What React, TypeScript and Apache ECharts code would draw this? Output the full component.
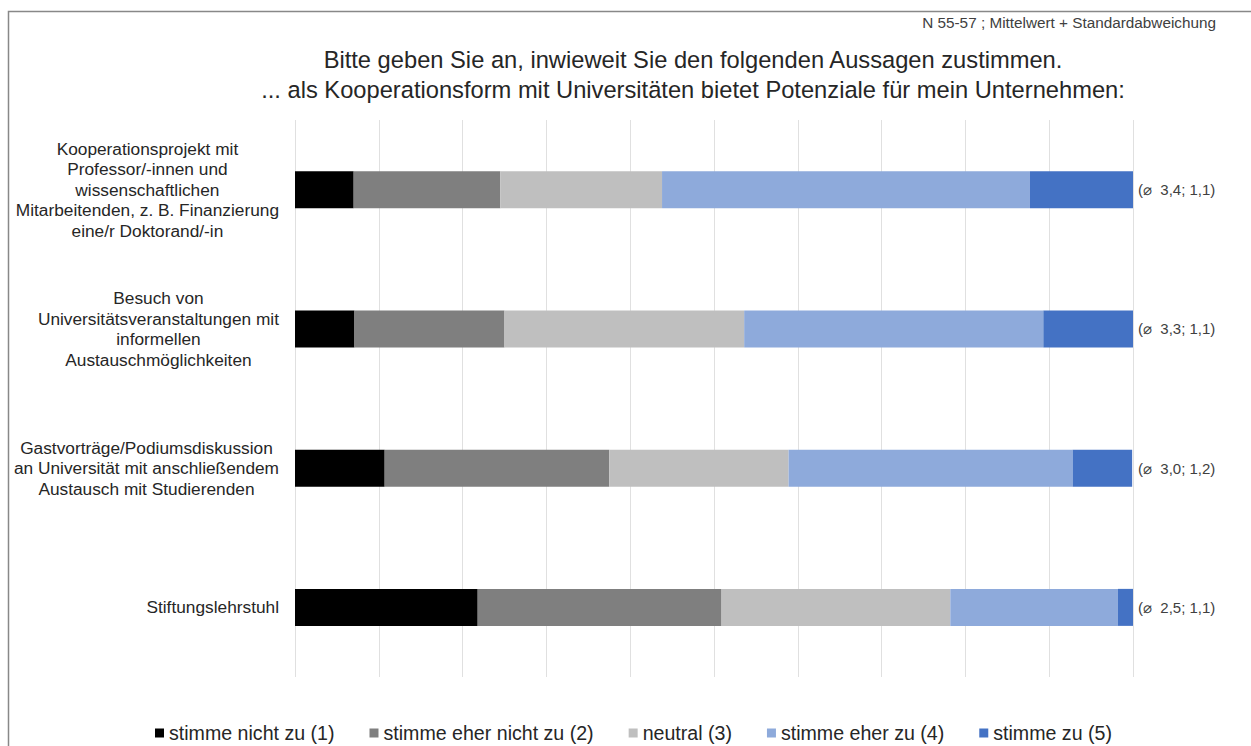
import React, { useEffect, useRef } from "react";
import * as echarts from "echarts";

const categories = [
  "Kooperationsprojekt mit\nProfessor/-innen und\nwissenschaftlichen\nMitarbeitenden, z. B. Finanzierung\neine/r Doktorand/-in",
  "Besuch von\nUniversitätsveranstaltungen mit\ninformellen\nAustauschmöglichkeiten",
  "Gastvorträge/Podiumsdiskussion\nan Universität mit anschließendem\nAustausch mit Studierenden",
  "Stiftungslehrstuhl",
];

const seriesNames = [
  "stimme nicht zu (1)",
  "stimme eher nicht zu (2)",
  "neutral (3)",
  "stimme eher zu (4)",
  "stimme zu (5)",
];

// Share of answers in percent per statement (rows follow categories)
const stimmeNichtZu = [7.0, 7.1, 10.7, 21.8];
const stimmeEherNichtZu = [17.5, 17.9, 26.8, 29.1];
const neutral = [19.3, 28.6, 21.4, 27.3];
const stimmeEherZu = [43.9, 35.7, 33.9, 20.0];
const stimmeZu = [12.3, 10.7, 7.1, 1.8];

const means = ["3,4", "3,3", "3,0", "2,5"];
const stdDevs = ["1,1", "1,1", "1,2", "1,1"];

const colors = ["#000000", "#7f7f7f", "#bfbfbf", "#8eaadb", "#4472c4"];

const titleLines = [
  "Bitte geben Sie an, inwieweit Sie den folgenden Aussagen zustimmen.",
  "... als Kooperationsform mit Universitäten bietet Potenziale für mein Unternehmen:",
];
const note = "N 55-57 ; Mittelwert + Standardabweichung";

const FONT = "'Liberation Sans', Arial, Helvetica, sans-serif";

export default function App() {
  const ref = useRef<HTMLDivElement>(null);

  useEffect(() => {
    if (!ref.current) return;
    const chart = echarts.init(ref.current, undefined, { renderer: "svg" });
    const values = [stimmeNichtZu, stimmeEherNichtZu, neutral, stimmeEherZu, stimmeZu];
    const statLabels = means.map((m, i) => `(⌀  ${m}; ${stdDevs[i]})`);

    chart.setOption({
      animation: false,
      backgroundColor: "#ffffff",
      textStyle: { fontFamily: FONT },
      title: {
        text: titleLines.join("\n"),
        left: 688,
        top: 40,
        textAlign: "center",
        textStyle: {
          fontFamily: FONT,
          fontSize: 23.7,
          fontWeight: "normal",
          color: "#262626",
          lineHeight: 30,
        },
      },
      graphic: [
        {
          type: "rect",
          shape: { x: 8.5, y: 11.5, width: 1300, height: 800 },
          style: { fill: "none", stroke: "#888888", lineWidth: 1.5 },
          silent: true,
        },
        {
          type: "text",
          x: 1216,
          y: 22,
          style: {
            text: note,
            font: `15.3px ${FONT}`,
            fill: "#404040",
            textAlign: "right",
            textVerticalAlign: "middle",
          },
        },
      ],
      legend: {
        data: seriesNames,
        left: 150,
        top: 718,
        itemWidth: 9,
        itemHeight: 9,
        itemGap: 35,
        icon: "rect",
        textStyle: { fontFamily: FONT, fontSize: 19.6, color: "#262626" },
      },
      grid: { left: 295, right: 118, top: 120, bottom: 69 },
      xAxis: {
        type: "value",
        min: 0,
        max: 100,
        interval: 10,
        axisLabel: { show: false },
        axisLine: { show: false },
        axisTick: { show: false },
        splitLine: { lineStyle: { color: "#e0e0e0", width: 1 } },
      },
      yAxis: [
        {
          type: "category",
          data: categories,
          inverse: true,
          axisLine: { show: false },
          axisTick: { show: false },
          axisLabel: {
            margin: 16,
            align: "right",
            formatter: (v: string) =>
              v
                .split("\n")
                .map((l) => `{c|${l}}`)
                .join("\n"),
            rich: {
              c: {
                align: "center",
                fontFamily: FONT,
                fontSize: 17.3,
                lineHeight: 20.5,
                color: "#262626",
              },
            },
          },
        },
        {
          type: "category",
          data: statLabels,
          inverse: true,
          position: "right",
          axisLine: { show: false },
          axisTick: { show: false },
          axisLabel: {
            margin: 5,
            fontFamily: FONT,
            fontSize: 15,
            color: "#404040",
          },
        },
      ],
      series: seriesNames.map((name, i) => ({
        name,
        type: "bar",
        stack: "total",
        barWidth: 37,
        yAxisIndex: 0,
        itemStyle: { color: colors[i] },
        data: values[i],
      })),
    });

    return () => chart.dispose();
  }, []);

  return (
    <div
      ref={ref}
      style={{ position: "absolute", left: 0, top: 0, width: 1251, height: 746 }}
    />
  );
}
